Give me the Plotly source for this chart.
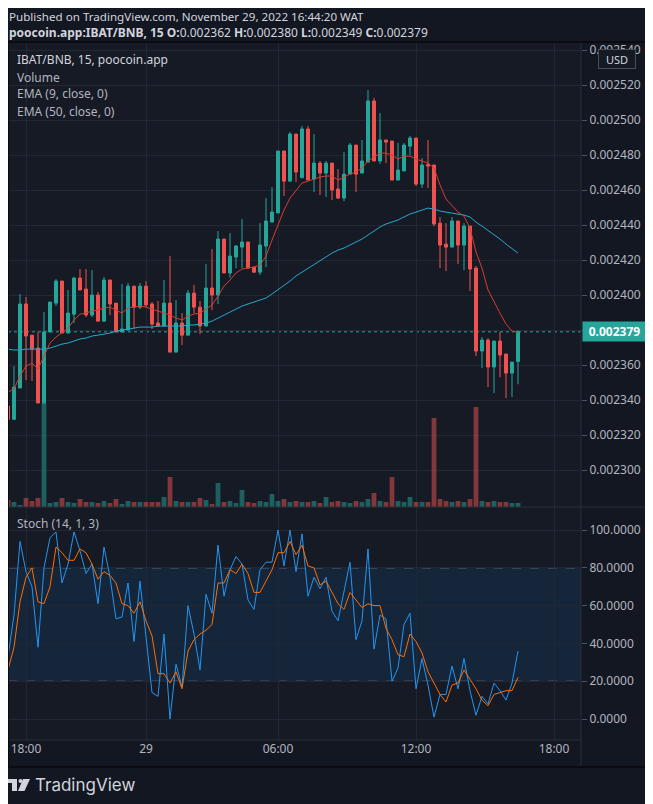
import plotly.graph_objects as go

# IBAT/BNB 15m bars, prices in BNB
open_ = [2336.6e-6, 2329.0e-6, 2346.9e-6, 2394.9e-6, 2377.1e-6, 2369.7e-6, 2338.3e-6, 2378.9e-6, 2395.4e-6, 2408.0e-6,
         2378.3e-6, 2389.1e-6, 2409.7e-6, 2403.4e-6, 2388.6e-6, 2400.0e-6, 2385.1e-6, 2408.6e-6, 2395.4e-6, 2378.9e-6,
         2380.0e-6, 2405.1e-6, 2393.1e-6, 2405.1e-6, 2394.9e-6, 2384.0e-6, 2382.3e-6, 2395.4e-6, 2367.4e-6, 2384.0e-6,
         2377.1e-6, 2401.1e-6, 2393.1e-6, 2382.3e-6, 2404.0e-6, 2400.0e-6, 2432.0e-6, 2412.6e-6, 2421.7e-6, 2427.4e-6,
         2430.3e-6, 2416.0e-6, 2413.1e-6, 2428.0e-6, 2441.7e-6, 2446.9e-6, 2482.3e-6, 2465.1e-6, 2492.0e-6, 2467.0e-6,
         2494.9e-6, 2466.3e-6, 2475.4e-6, 2469.7e-6, 2475.4e-6, 2460.6e-6, 2455.4e-6, 2469.1e-6, 2485.7e-6, 2469.7e-6,
         2476.0e-6, 2510.9e-6, 2476.6e-6, 2488.6e-6, 2488.0e-6, 2465.7e-6, 2470.9e-6, 2485.1e-6, 2489.7e-6, 2463.4e-6,
         2474.6e-6, 2474.3e-6, 2441.1e-6, 2429.1e-6, 2427.4e-6, 2442.3e-6, 2428.6e-6, 2439.4e-6, 2415.4e-6, 2368.0e-6,
         2374.3e-6, 2358.9e-6, 2373.7e-6, 2366.3e-6, 2355.4e-6, 2362.0e-6]
high = [2337.2e-6, 2359.4e-6, 2400.6e-6, 2398.9e-6, 2377.1e-6, 2378.9e-6, 2390.3e-6, 2396.0e-6, 2409.1e-6, 2408.0e-6,
        2402.9e-6, 2410.3e-6, 2414.9e-6, 2414.9e-6, 2414.3e-6, 2401.7e-6, 2410.3e-6, 2408.6e-6, 2395.4e-6, 2406.3e-6,
        2406.9e-6, 2405.1e-6, 2406.9e-6, 2408.0e-6, 2396.0e-6, 2396.6e-6, 2408.6e-6, 2422.3e-6, 2397.1e-6, 2389.7e-6,
        2402.9e-6, 2405.7e-6, 2396.6e-6, 2417.7e-6, 2426.3e-6, 2436.6e-6, 2432.0e-6, 2435.4e-6, 2428.6e-6, 2443.4e-6,
        2430.3e-6, 2416.0e-6, 2441.1e-6, 2455.4e-6, 2461.7e-6, 2482.3e-6, 2482.3e-6, 2493.1e-6, 2492.0e-6, 2496.6e-6,
        2496.6e-6, 2492.0e-6, 2476.6e-6, 2476.6e-6, 2475.4e-6, 2472.0e-6, 2481.7e-6, 2486.9e-6, 2485.7e-6, 2488.6e-6,
        2517.1e-6, 2512.6e-6, 2504.0e-6, 2488.6e-6, 2488.0e-6, 2486.9e-6, 2486.9e-6, 2490.9e-6, 2489.7e-6, 2478.3e-6,
        2488.6e-6, 2474.3e-6, 2444.6e-6, 2441.1e-6, 2444.6e-6, 2442.3e-6, 2441.1e-6, 2439.4e-6, 2416.6e-6, 2376.0e-6,
        2375.4e-6, 2373.7e-6, 2378.9e-6, 2366.3e-6, 2361.7e-6, 2380.0e-6]
low = [2301.0e-6, 2329.0e-6, 2346.9e-6, 2351.4e-6, 2350.9e-6, 2338.3e-6, 2338.3e-6, 2378.9e-6, 2393.7e-6, 2378.3e-6,
       2378.3e-6, 2384.0e-6, 2402.9e-6, 2387.4e-6, 2387.4e-6, 2385.1e-6, 2385.1e-6, 2388.6e-6, 2378.9e-6, 2378.9e-6,
       2380.0e-6, 2380.6e-6, 2392.0e-6, 2393.1e-6, 2380.6e-6, 2381.7e-6, 2382.3e-6, 2367.4e-6, 2367.4e-6, 2371.4e-6,
       2377.1e-6, 2389.7e-6, 2377.7e-6, 2382.3e-6, 2391.4e-6, 2394.9e-6, 2412.6e-6, 2410.0e-6, 2415.4e-6, 2415.4e-6,
       2415.4e-6, 2412.6e-6, 2411.4e-6, 2416.0e-6, 2441.7e-6, 2446.9e-6, 2456.6e-6, 2465.1e-6, 2464.6e-6, 2467.0e-6,
       2465.7e-6, 2458.9e-6, 2457.1e-6, 2456.0e-6, 2454.3e-6, 2454.9e-6, 2453.7e-6, 2469.1e-6, 2458.9e-6, 2469.7e-6,
       2476.0e-6, 2476.6e-6, 2474.9e-6, 2475.4e-6, 2465.7e-6, 2465.7e-6, 2470.9e-6, 2480.0e-6, 2462.3e-6, 2461.1e-6,
       2461.1e-6, 2439.4e-6, 2415.4e-6, 2413.7e-6, 2427.4e-6, 2417.7e-6, 2414.3e-6, 2402.3e-6, 2365.1e-6, 2358.3e-6,
       2347.4e-6, 2344.0e-6, 2353.1e-6, 2341.1e-6, 2341.7e-6, 2349.0e-6]
close = [2329.0e-6, 2347.4e-6, 2394.9e-6, 2376.6e-6, 2369.1e-6, 2338.3e-6, 2378.9e-6, 2396.0e-6, 2408.0e-6, 2378.3e-6,
         2389.7e-6, 2409.7e-6, 2402.9e-6, 2388.6e-6, 2400.0e-6, 2385.1e-6, 2408.6e-6, 2394.9e-6, 2378.9e-6, 2380.6e-6,
         2405.1e-6, 2393.1e-6, 2405.1e-6, 2394.3e-6, 2383.4e-6, 2382.3e-6, 2395.4e-6, 2367.4e-6, 2384.0e-6, 2377.1e-6,
         2401.1e-6, 2393.1e-6, 2382.3e-6, 2404.0e-6, 2400.0e-6, 2432.0e-6, 2412.6e-6, 2422.3e-6, 2428.0e-6, 2430.3e-6,
         2415.4e-6, 2413.1e-6, 2428.6e-6, 2442.3e-6, 2447.4e-6, 2482.3e-6, 2465.1e-6, 2492.0e-6, 2470.3e-6, 2494.9e-6,
         2465.7e-6, 2475.4e-6, 2469.7e-6, 2475.4e-6, 2460.0e-6, 2455.4e-6, 2469.1e-6, 2485.7e-6, 2469.1e-6, 2476.6e-6,
         2510.9e-6, 2476.6e-6, 2488.6e-6, 2487.4e-6, 2465.7e-6, 2471.4e-6, 2485.7e-6, 2489.7e-6, 2463.4e-6, 2474.3e-6,
         2473.7e-6, 2440.6e-6, 2428.6e-6, 2427.4e-6, 2442.3e-6, 2428.6e-6, 2439.4e-6, 2414.9e-6, 2368.0e-6, 2374.3e-6,
         2358.9e-6, 2373.7e-6, 2365.7e-6, 2355.4e-6, 2361.7e-6, 2379.0e-6]

# volume (relative units)
volume = [7, 5, 2, 9, 6, 9, 104, 4, 5, 9,
          5, 4, 8, 5, 5, 4, 6, 4, 8, 3,
          6, 5, 5, 5, 5, 5, 10, 30, 6, 5,
          5, 5, 9, 7, 3, 24, 5, 6, 4, 17,
          5, 4, 6, 5, 13, 6, 8, 5, 6, 5,
          5, 6, 4, 10, 5, 6, 5, 4, 6, 5,
          8, 14, 6, 5, 30, 6, 5, 10, 5, 5,
          5, 89, 8, 6, 5, 6, 5, 8, 100, 6,
          5, 6, 5, 5, 4, 4]

ema9 = [2344.6e-6, 2346.3e-6, 2353.7e-6, 2359.4e-6, 2361.1e-6, 2357.7e-6, 2365.1e-6, 2372.6e-6, 2376.0e-6, 2378.3e-6,
        2381.1e-6, 2385.7e-6, 2389.1e-6, 2389.7e-6, 2390.9e-6, 2391.4e-6, 2392.6e-6, 2393.1e-6, 2391.4e-6, 2389.7e-6,
        2392.6e-6, 2393.1e-6, 2393.7e-6, 2393.1e-6, 2392.0e-6, 2390.9e-6, 2389.7e-6, 2388.6e-6, 2386.9e-6, 2385.7e-6,
        2388.0e-6, 2389.1e-6, 2389.7e-6, 2392.0e-6, 2394.3e-6, 2399.4e-6, 2405.1e-6, 2408.6e-6, 2412.6e-6, 2414.9e-6,
        2415.4e-6, 2416.0e-6, 2417.1e-6, 2422.3e-6, 2431.4e-6, 2440.0e-6, 2448.6e-6, 2455.4e-6, 2460.0e-6, 2464.0e-6,
        2465.1e-6, 2466.3e-6, 2467.4e-6, 2468.0e-6, 2468.0e-6, 2465.7e-6, 2467.4e-6, 2469.1e-6, 2470.3e-6, 2472.6e-6,
        2476.6e-6, 2478.9e-6, 2481.1e-6, 2481.1e-6, 2480.0e-6, 2477.7e-6, 2479.4e-6, 2479.4e-6, 2477.7e-6, 2476.6e-6,
        2475.4e-6, 2472.6e-6, 2462.9e-6, 2454.9e-6, 2450.9e-6, 2447.4e-6, 2445.1e-6, 2438.3e-6, 2424.6e-6, 2415.4e-6,
        2402.9e-6, 2396.0e-6, 2389.7e-6, 2383.4e-6, 2379.4e-6, 2378.9e-6]
ema50 = [2369.1e-6, 2368.6e-6, 2368.6e-6, 2369.1e-6, 2369.1e-6, 2369.1e-6, 2369.1e-6, 2369.7e-6, 2370.9e-6, 2372.0e-6,
         2372.6e-6, 2373.7e-6, 2374.9e-6, 2375.4e-6, 2376.6e-6, 2377.1e-6, 2377.7e-6, 2378.3e-6, 2379.4e-6, 2380.0e-6,
         2380.6e-6, 2381.1e-6, 2381.7e-6, 2381.7e-6, 2381.7e-6, 2382.3e-6, 2382.3e-6, 2382.3e-6, 2382.3e-6, 2382.3e-6,
         2382.9e-6, 2382.9e-6, 2383.4e-6, 2384.0e-6, 2385.1e-6, 2386.9e-6, 2388.6e-6, 2390.3e-6, 2392.0e-6, 2393.7e-6,
         2394.9e-6, 2396.0e-6, 2397.1e-6, 2398.3e-6, 2400.6e-6, 2402.9e-6, 2405.7e-6, 2408.0e-6, 2410.9e-6, 2413.1e-6,
         2415.4e-6, 2417.7e-6, 2420.0e-6, 2422.3e-6, 2424.0e-6, 2425.7e-6, 2426.9e-6, 2428.6e-6, 2430.3e-6, 2432.0e-6,
         2434.3e-6, 2436.6e-6, 2438.9e-6, 2440.6e-6, 2441.7e-6, 2442.9e-6, 2444.6e-6, 2446.3e-6, 2447.4e-6, 2448.6e-6,
         2449.7e-6, 2449.1e-6, 2448.0e-6, 2447.4e-6, 2446.9e-6, 2446.3e-6, 2445.7e-6, 2444.6e-6, 2441.7e-6, 2439.4e-6,
         2437.1e-6, 2434.3e-6, 2432.0e-6, 2429.1e-6, 2426.3e-6, 2424.0e-6]

stoch_k = [33, 55, 94, 78, 70, 38, 80, 96, 99, 72,
           82, 99, 89, 77, 82, 61, 91, 75, 53, 54,
           72, 41, 73, 42, 14, 12, 45, 0, 29, 17,
           60, 45, 26, 66, 56, 92, 65, 79, 86, 82,
           63, 58, 79, 83, 83, 100, 81, 100, 78, 98,
           65, 75, 69, 75, 57, 52, 67, 83, 42, 52,
           90, 37, 55, 53, 20, 27, 50, 56, 16, 32,
           18, 1, 13, 13, 28, 16, 32, 15, 2, 12,
           8, 19, 15, 10, 19, 36]
stoch_d = [26, 38, 62, 75, 80, 62, 61, 70, 91, 88,
           84, 84, 90, 88, 82, 74, 78, 76, 72, 61,
           60, 56, 62, 52, 44, 24, 24, 19, 25, 16,
           36, 42, 45, 47, 50, 72, 72, 79, 77, 82,
           77, 67, 67, 73, 79, 88, 88, 94, 87, 92,
           81, 80, 71, 73, 67, 61, 58, 67, 63, 59,
           61, 60, 60, 48, 42, 34, 33, 45, 41, 35,
           25, 19, 13, 9, 18, 19, 26, 21, 16, 10,
           7, 13, 14, 15, 15, 22]

price_ticks = [2300e-6, 2320e-6, 2340e-6, 2360e-6, 2380e-6, 2400e-6, 2420e-6, 2440e-6,
               2460e-6, 2480e-6, 2500e-6, 2520e-6, 2540e-6]
stoch_ticks = [0, 20, 40, 60, 80, 100]
tick_pos = [3, 23, 45, 68, 91]
tick_text = ['18:00', '29', '06:00', '12:00', '18:00']

bars = list(range(len(close)))

UP = '#26a69a'
DOWN = '#ef5350'
BG = '#131722'
PANE = '#161a25'
GRID = '#232733'
TXT = '#b2b5be'
FONT = 'Noto Sans, sans-serif'

# the page puts the figure 8px in from the top-left corner
OFF = 8
W, H = 653 - OFF, 804 - OFF
ML, MR, MT, MB = 0, 72, 42 - OFF, 64
PW, PH = W - ML - MR, H - MT - MB


def px(x):  # page pixel -> paper x
    return (x - OFF - ML) / PW


def py(y):  # page pixel -> paper y
    return (H - MB - (y - OFF)) / PH


split = py(507)

vol_colors = ['rgba(38,166,154,0.5)' if c >= o else 'rgba(239,83,80,0.5)' for o, c in zip(open_, close)]

fig = go.Figure()
fig.add_trace(go.Bar(x=bars, y=volume, marker_color=vol_colors, marker_line_width=0,
                     width=0.8, xaxis='x', yaxis='y', hoverinfo='skip'))
fig.add_trace(go.Candlestick(
    x=bars, open=open_, high=high, low=low, close=close, xaxis='x', yaxis='y2',
    increasing=dict(line=dict(color=UP, width=1), fillcolor=UP),
    decreasing=dict(line=dict(color=DOWN, width=1), fillcolor=DOWN),
    whiskerwidth=0, hoverinfo='skip'))
fig.add_trace(go.Scatter(x=bars, y=ema50, mode='lines', line=dict(color='#22a9cc', width=1),
                         xaxis='x', yaxis='y2', hoverinfo='skip'))
fig.add_trace(go.Scatter(x=bars, y=ema9, mode='lines', line=dict(color='#d83c2e', width=1),
                         xaxis='x', yaxis='y2', hoverinfo='skip'))
fig.add_trace(go.Scatter(x=bars, y=stoch_k, mode='lines', line=dict(color='#2196f3', width=1),
                         xaxis='x', yaxis='y3', hoverinfo='skip'))
fig.add_trace(go.Scatter(x=bars, y=stoch_d, mode='lines', line=dict(color='#ff6d00', width=1),
                         xaxis='x', yaxis='y3', hoverinfo='skip'))

shapes = [
    # stoch band and levels
    dict(type='rect', xref='paper', yref='y3', x0=0, x1=1, y0=20, y1=80,
         fillcolor='rgba(33,150,243,0.1)', line_width=0, layer='below'),
    dict(type='line', xref='paper', yref='y3', x0=0, x1=1, y0=80, y1=80,
         line=dict(color='#787b86', width=1, dash='dash'), layer='between'),
    dict(type='line', xref='paper', yref='y3', x0=0, x1=1, y0=20, y1=20,
         line=dict(color='#787b86', width=1, dash='dash'), layer='between'),
    # last price line
    dict(type='line', xref='paper', yref='y2', x0=0, x1=1, y0=close[-1], y1=close[-1],
         line=dict(color=UP, width=1, dash='dot'), layer='between'),
    # separators and frame
    dict(type='line', xref='paper', yref='paper', x0=0, x1=px(647), y0=split, y1=split,
         line=dict(color='#2a2e39', width=1)),
    dict(type='line', xref='paper', yref='paper', x0=0, x1=1, y0=0, y1=0,
         line=dict(color='#2a2e39', width=1)),
    dict(type='line', xref='paper', yref='paper', x0=1, x1=1, y0=py(767), y1=1,
         line=dict(color='#2a2e39', width=1)),
    dict(type='rect', xref='paper', yref='paper', x0=px(8), x1=px(647), y0=py(767), y1=1,
         line=dict(color='#0a0c12', width=2)),
    # TradingView logo
    dict(type='rect', xref='paper', yref='paper', x0=px(8), x1=px(17), y0=py(783), y1=py(779),
         fillcolor='#d1d4dc', line_width=0),
    dict(type='rect', xref='paper', yref='paper', x0=px(12), x1=px(17), y0=py(791), y1=py(779),
         fillcolor='#d1d4dc', line_width=0),
    dict(type='circle', xref='paper', yref='paper', x0=px(18.5), x1=px(22.5), y0=py(783), y1=py(779),
         fillcolor='#d1d4dc', line_width=0),
    dict(type='path', xref='paper', yref='paper',
         path=f'M {px(23)},{py(779)} L {px(30)},{py(779)} L {px(24.5)},{py(791)} L {px(18)},{py(791)} Z',
         fillcolor='#d1d4dc', line_width=0),
]

ann = [
    dict(x=px(8), y=py(8), yanchor='top', borderpad=0,
         text='Published on TradingView.com, November 29, 2022 16:44:20 WAT',
         font=dict(size=11.6, color='#d1d4dc')),
    dict(x=px(8), y=py(32.5), borderpad=0,
         text=(f'<b>poocoin.app:IBAT/BNB, 15</b> <b>O:</b>{open_[-1]:.6f} <b>H:</b>{high[-1]:.6f} '
               f'<b>L:</b>{low[-1]:.6f} <b>C:</b>{close[-1]:.6f}'),
         font=dict(size=12, color='#d1d4dc')),
    dict(x=px(15), y=py(60), text='IBAT/BNB, 15, poocoin.app', font=dict(size=12, color='#d1d4dc')),
    dict(x=px(15), y=py(77), text='Volume', font=dict(size=12, color=TXT)),
    dict(x=px(15), y=py(94), text='EMA (9, close, 0)', font=dict(size=12, color=TXT)),
    dict(x=px(15), y=py(111), text='EMA (50, close, 0)', font=dict(size=12, color=TXT)),
    dict(x=px(15), y=py(523), text='Stoch (14, 1, 3)', font=dict(size=12, color=TXT)),
    dict(x=px(33), y=py(785), text='TradingView', font=dict(size=17, color='#d1d4dc', family='Inter')),
]
for a in ann:
    a.setdefault('yanchor', 'middle')
    a.update(xref='paper', yref='paper', xanchor='left', showarrow=False)
ann += [
    dict(xref='paper', yref='paper', x=px(617), y=py(59), text='USD', showarrow=False,
         font=dict(size=11, color='#d1d4dc'), bgcolor=PANE, bordercolor='#4a4e59', borderwidth=1,
         width=34, height=16, xanchor='center', yanchor='middle'),
    dict(xref='paper', yref='y2', x=1, y=close[-1], text=f'<b>{close[-1]:.6f}</b>', showarrow=False,
         font=dict(size=12, color='#ffffff'), bgcolor=UP, width=61, height=17,
         xanchor='left', yanchor='middle', xshift=1),
]

# the last-price label covers the tick it sits on
price_text = ['' if abs(v - close[-1]) < 5e-6 else f'{v:.6f}' for v in price_ticks]

axis_font = dict(size=12, color=TXT, family=FONT)
fig.update_layout(
    width=W, height=H,
    margin=dict(l=ML, r=MR, t=MT, b=MB),
    paper_bgcolor=BG, plot_bgcolor=PANE,
    showlegend=False,
    font=dict(family=FONT),
    boxgap=0.3,
    xaxis=dict(domain=[0, 1], anchor='y3', range=[0, 95.5],
               tickvals=tick_pos, ticktext=tick_text, tickfont=axis_font,
               showgrid=True, gridcolor=GRID, zeroline=False, showline=False,
               ticks='', rangeslider=dict(visible=False)),
    yaxis=dict(domain=[split, 1], anchor='x', range=[0, 465], visible=False,
               showgrid=False, zeroline=False, fixedrange=True),
    yaxis2=dict(overlaying='y', anchor='x', side='right',
                range=[2278.9e-6, 2544.6e-6], tickvals=price_ticks, ticktext=price_text,
                tickfont=axis_font, showgrid=True, gridcolor=GRID, zeroline=False,
                ticks='outside', ticklen=5, tickcolor='#50535e', showline=False),
    yaxis3=dict(domain=[0, split], anchor='x', side='right', range=[-11.1, 112.2],
                tickvals=stoch_ticks, tickformat='.4f', tickfont=axis_font,
                showgrid=True, gridcolor=GRID, zeroline=False,
                ticks='outside', ticklen=5, tickcolor='#50535e', showline=False),
    shapes=shapes,
    annotations=ann,
)

fig.write_html('out.html')
